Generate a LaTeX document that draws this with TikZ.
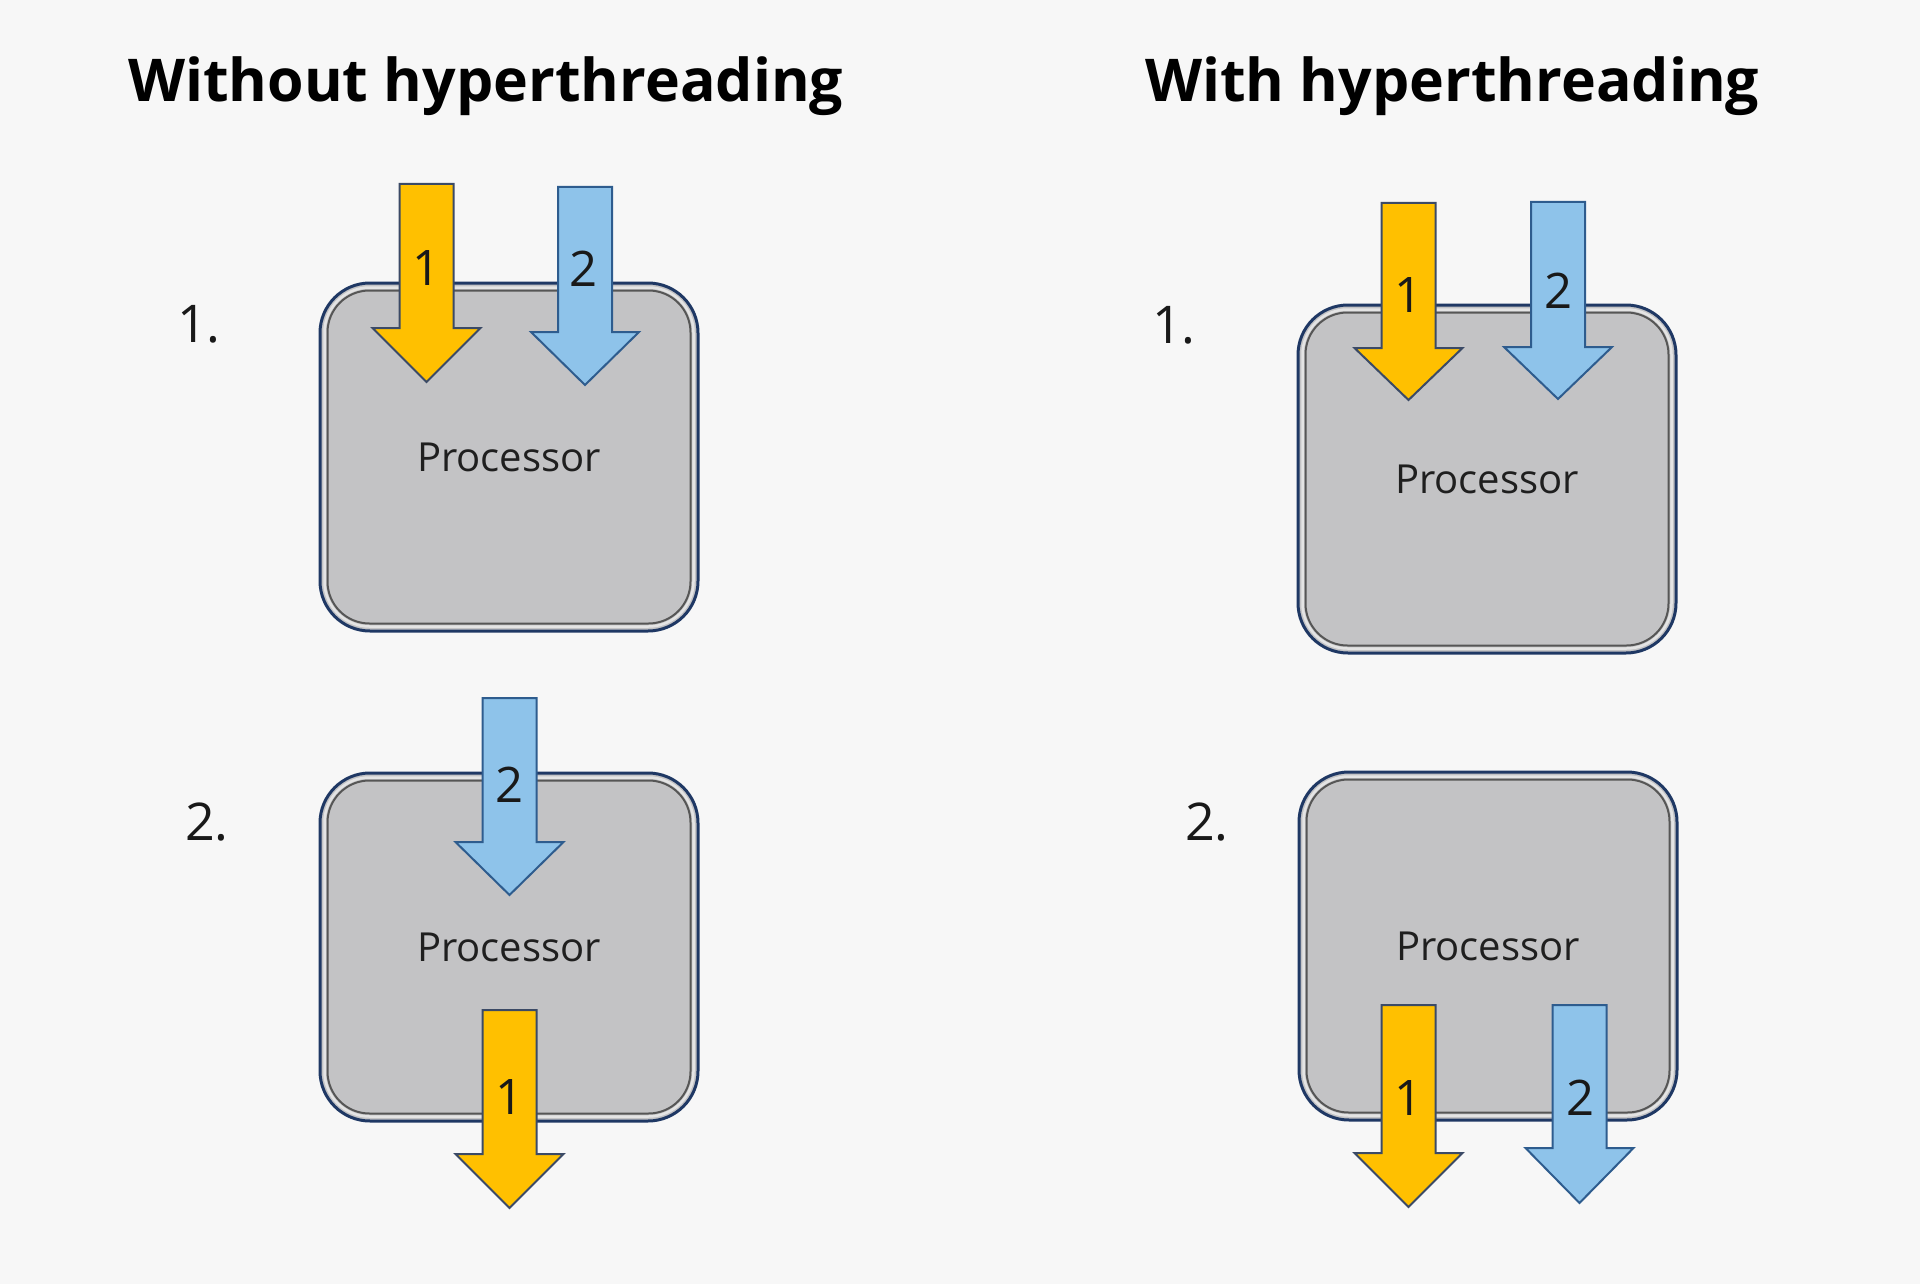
\documentclass[tikz,border=0pt]{standalone}
\usepackage{fontspec}
\setmainfont{Open Sans}
\definecolor{bgc}{HTML}{F7F7F7}
\definecolor{boxfill}{HTML}{C3C3C5}
\definecolor{navy}{HTML}{1F3864}
\definecolor{ylw}{HTML}{FFC000}
\definecolor{ylwline}{HTML}{3B4A66}
\definecolor{blu}{HTML}{8EC3EA}
\definecolor{bluline}{HTML}{2E5C8E}
\definecolor{rimlight}{HTML}{E4E4E4}
\definecolor{rimdark}{HTML}{565656}
\tikzset{
  proc/.style={draw=navy, line width=3pt, fill=boxfill, rounded corners=50pt,
    minimum width=378pt, minimum height=348pt, inner sep=0pt,
    font=\fontsize{40}{48}\selectfont, text=black!88},
  rimA/.style={draw=rimlight, line width=2.5pt, rounded corners=45pt},
  rimB/.style={draw=rimdark, line width=2pt, rounded corners=42pt},
  yarrow/.style={fill=ylw, draw=ylwline, line width=2pt, line join=miter},
  barrow/.style={fill=blu, draw=bluline, line width=2pt, line join=miter},
  title/.style={font=\fontsize{59}{70}\selectfont\bfseries, anchor=base west, inner sep=0pt},
  steplbl/.style={font=\fontsize{52}{60}\selectfont, anchor=base west, inner sep=0pt, text=black!90},
  num/.style={font=\fontsize{49}{58}\selectfont, anchor=base, inner sep=0pt, text=black!90}
}
\newcommand{\blockarrow}[5]{%
  \draw[#1] ({#2-27},#3) -- ({#2+27},#3) -- ({#2+27},#4) -- ({#2+54},#4)
    -- (#2,#5) -- ({#2-54},#4) -- ({#2-27},#4) -- cycle;}
\newcommand{\procrims}[1]{%
  \draw[rimA] ([shift={(6pt,-6pt)}]#1.north west) rectangle ([shift={(-6pt,6pt)}]#1.south east);
  \draw[rimB] ([shift={(9pt,-9pt)}]#1.north west) rectangle ([shift={(-9pt,9pt)}]#1.south east);}
\begin{document}
\begin{tikzpicture}[x=1pt,y=-1pt]
  \fill[bgc] (0,0) rectangle (1920,1284);
  \useasboundingbox (0,0) rectangle (1920,1284);

  % titles
  \node[title] (t1) at (128,102) {Without hyperthreading};
  \node[title] (t2) at (1145,102) {With hyperthreading};

  % step labels
  \node[steplbl] (s1l) at (177,342) {1.};
  \node[steplbl] (s2l) at (185,840) {2.};
  \node[steplbl] (s1r) at (1152,343) {1.};
  \node[steplbl] (s2r) at (1185,840) {2.};

  % processors
  \node[proc] (b1) at (509,457) {Processor};
  \node[proc] (b2) at (509,947) {Processor};
  \node[proc] (b3) at (1487,479) {Processor};
  \node[proc] (b4) at (1488,946) {Processor};
  \procrims{b1}
  \procrims{b2}
  \procrims{b3}
  \procrims{b4}

  % arrows, panel 1 left
  \blockarrow{yarrow}{426.5}{184}{328}{382}
  \blockarrow{barrow}{585}{187}{332}{385}
  % panel 2 left
  \blockarrow{barrow}{509.5}{698}{842}{895}
  \blockarrow{yarrow}{509.5}{1010}{1154}{1208}
  % panel 1 right
  \blockarrow{yarrow}{1408.5}{203}{348}{400}
  \blockarrow{barrow}{1558}{202}{347}{399}
  % panel 2 right
  \blockarrow{yarrow}{1408.5}{1005}{1153}{1207}
  \blockarrow{barrow}{1579.5}{1005}{1148}{1203}

  % thread numbers
  \node[num] (n11) at (427,285) {1};
  \node[num] (n12) at (584,286) {2};
  \node[num] (n22) at (510,802) {2};
  \node[num] (n21) at (510,1114) {1};
  \node[num] (n31) at (1408,312) {1};
  \node[num] (n32) at (1558,308) {2};
  \node[num] (n41) at (1408,1115) {1};
  \node[num] (n42) at (1580,1115) {2};
\end{tikzpicture}
\end{document}
